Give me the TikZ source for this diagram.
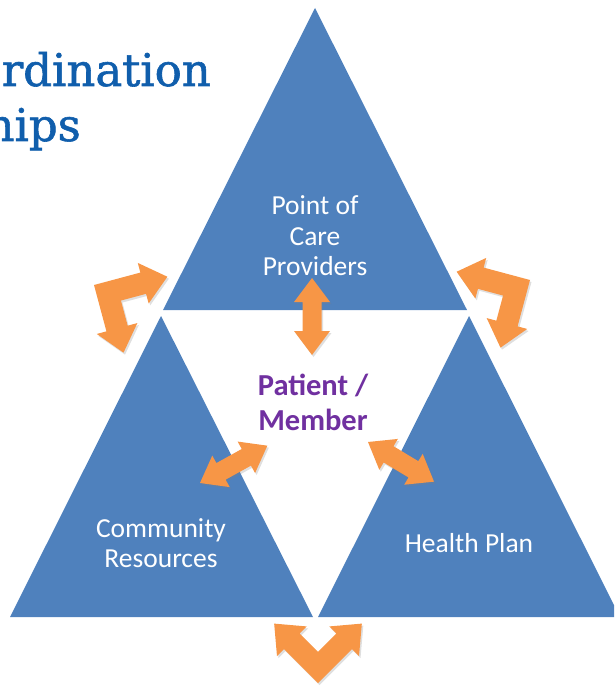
\documentclass[tikz,border=0pt]{standalone}
\usepackage{fontspec}
\setmainfont{Carlito}
\newfontfamily\titlefont[FakeBold=1.3]{DejaVu Serif}
\usetikzlibrary{shadows}

\definecolor{triblue}{HTML}{4F81BD}
\definecolor{arroworange}{HTML}{F79646}
\definecolor{memberpurple}{HTML}{7030A0}
\definecolor{titleblue}{RGB}{16,94,172}

\tikzset{
    tri/.style={fill=triblue},
    arrowfill/.style={fill=arroworange, drop shadow={shadow xshift=1.5pt, shadow yshift=-2pt, opacity=0.25}},
    label/.style={text=white, align=center, inner sep=0pt, font=\fontsize{27.5}{30.5}\selectfont},
    % straight arrow with a head at both ends
    dblarrow/.pic={
        \path[arrowfill] (0,0) -- (24,-18) -- (24,-9.5) -- (53,-9.5) -- (53,-18) -- (77,0)
            -- (53,18) -- (53,9.5) -- (24,9.5) -- (24,18) -- cycle;
    },
    % L-shaped arrow, outer corner at the origin
    bentarrow/.pic={
        \path[arrowfill] (0,0) -- (48,0) -- (48,-10) -- (73,11) -- (48,32) -- (48,22) -- (22,22)
            -- (22,48) -- (32,48) -- (11,73) -- (-10,48) -- (0,48) -- cycle;
    }
}

\begin{document}
\begin{tikzpicture}[x=1pt, y=-1pt]
    \useasboundingbox (0,0) rectangle (614,687);
    \clip (0,0) rectangle (614,687);
    % title, running off the left edge
    \node[anchor=base east, inner sep=0pt, text=titleblue, font=\titlefont\fontsize{45}{50}\selectfont] (title1) at (211,86) {rdination};
    \node[anchor=base east, inner sep=0pt, text=titleblue, font=\titlefont\fontsize{45}{50}\selectfont] (title2) at (81,141) {hips};
    % triangles
    \fill[tri] (315,8) -- (163,310) -- (467,310) -- cycle;
    \fill[tri] (161,316) -- (10,617) -- (313,617) -- cycle;
    \fill[tri] (469,316) -- (318,617) -- (620,617) -- cycle;
    % labels
    \node[label] (care) at (315,236) {Point of\\Care\\Providers};
    \node[label] (community) at (161,543) {Community\\Resources};
    \node[label, anchor=base] (plan) at (469,552) {Health Plan};
    \node[text=memberpurple, align=center, inner sep=0pt, font=\bfseries\fontsize{30.5}{35}\selectfont] (member) at (313,402) {Patient /\\Member};
    % arrows to the middle
    \pic[rotate=-90] at (312,278) {dblarrow};
    \pic[rotate=29] at (200,483) {dblarrow};
    \pic[rotate=-31] at (368,442) {dblarrow};
    % arrows between the corners
    \pic[rotate=15] at (94,285) {bentarrow};
    \pic[rotate=-15, xscale=-1] at (530,280) {bentarrow};
    \pic[rotate=135] at (318,683) {bentarrow};
\end{tikzpicture}
\end{document}
